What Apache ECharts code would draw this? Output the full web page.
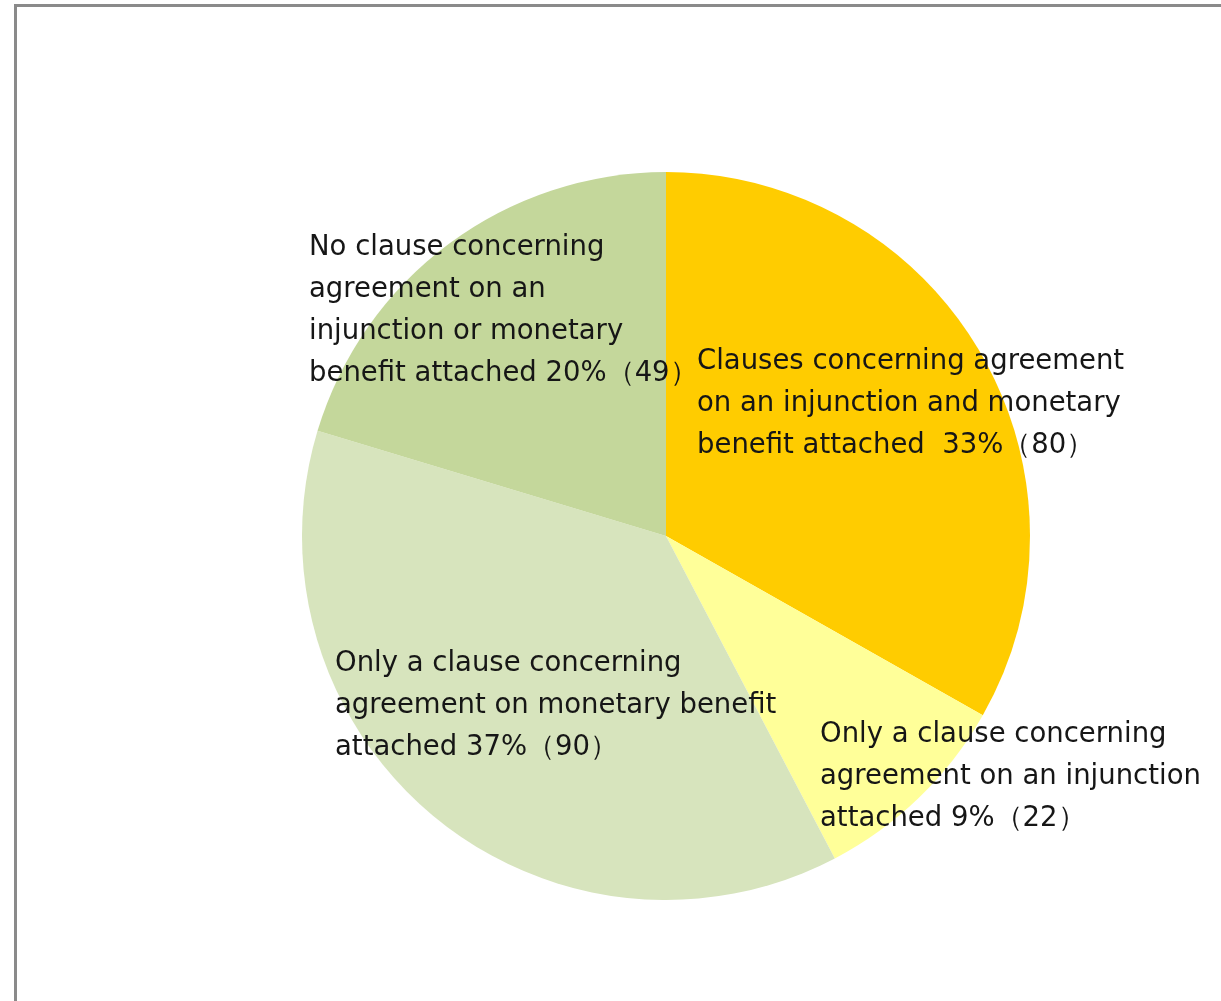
<!DOCTYPE html>
<html>
<head>
<meta charset="utf-8">
<script src="https://cdn.jsdelivr.net/npm/echarts@6/dist/echarts.min.js"></script>
<style>
  html, body { margin: 0; padding: 0; background: #fff; }
  #chart { width: 1221px; height: 1001px; }
</style>
</head>
<body>
<div id="chart"></div>
<script>
// Agreement clauses attached to settlements (number of cases)
const categories = [
  'Clauses concerning agreement on an injunction and monetary benefit attached',
  'Only a clause concerning agreement on an injunction attached',
  'Only a clause concerning agreement on monetary benefit attached',
  'No clause concerning agreement on an injunction or monetary benefit attached'
];
const caseCounts = [80, 22, 90, 49];
const labelLines = [
  'Clauses concerning agreement\non an injunction and monetary\nbenefit attached  ',
  'Only a clause concerning\nagreement on an injunction\nattached ',
  'Only a clause concerning\nagreement on monetary benefit\nattached ',
  'No clause concerning\nagreement on an\ninjunction or monetary\nbenefit attached '
];
const sliceColors = ['#FFCC00', '#FFFF99', '#D7E4BD', '#C4D79B'];

const totalCases = caseCounts.reduce((a, b) => a + b, 0);

// label anchor (top-left) per slice
const labelAnchors = [[697, 341], [820, 714], [335, 643], [309, 227]];

const chart = echarts.init(document.getElementById('chart'));
chart.setOption({
  backgroundColor: '#ffffff',
  animation: false,
  graphic: [{
    type: 'rect',
    shape: { x: 15.5, y: 5.5, width: 1400, height: 1200 },
    style: { fill: 'none', stroke: '#8a8a8a', lineWidth: 3 },
    silent: true
  }],
  series: [{
    type: 'pie',
    center: [666, 536],
    radius: [0, 364],
    startAngle: 90,
    clockwise: true,
    data: categories.map((name, i) => ({
      name,
      value: caseCounts[i],
      itemStyle: { color: sliceColors[i] }
    })),
    itemStyle: { borderWidth: 0 },
    label: {
      show: true,
      position: 'inside',
      color: '#161616',
      fontFamily: '"DejaVu Sans", sans-serif',
      fontSize: 27.5,
      lineHeight: 42,
      align: 'left',
      formatter: p => labelLines[p.dataIndex] +
        Math.round(p.value / totalCases * 100) + '%（' + p.value + '）'
    },
    labelLine: { show: false },
    labelLayout: p => ({
      x: labelAnchors[p.dataIndex][0],
      y: labelAnchors[p.dataIndex][1],
      align: 'left',
      verticalAlign: 'top'
    }),
    emphasis: { disabled: true }
  }]
});
</script>
</body>
</html>
